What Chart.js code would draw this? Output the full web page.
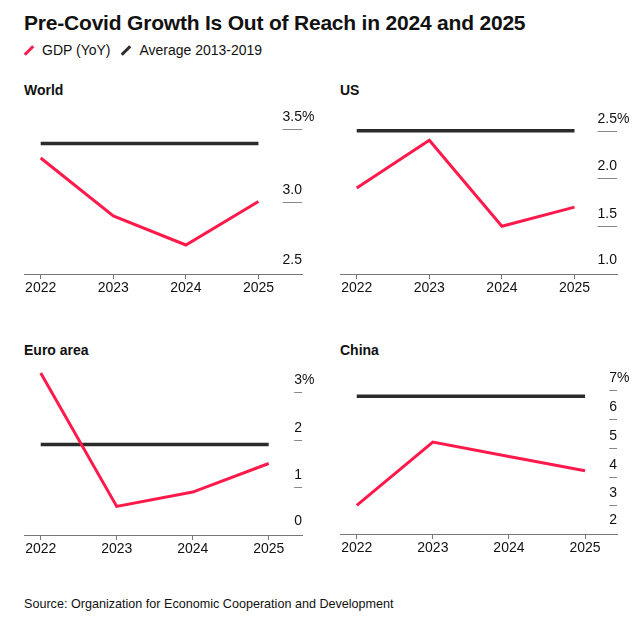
<!DOCTYPE html>
<html>
<head>
<meta charset="utf-8">
<script src="https://cdn.jsdelivr.net/npm/chart.js@4"></script>
<style>
  html, body { margin: 0; padding: 0; background: #fff; }
  body { width: 644px; height: 627px; position: relative; overflow: hidden; font-family: "Liberation Sans", Arial, sans-serif; color: #111; }
  .abs { position: absolute; white-space: nowrap; }
  #title { left: 24px; top: 10px; font-size: 21px; font-weight: bold; line-height: 26px; letter-spacing: -0.2px; }
  #legend { left: 24px; top: 41px; font-size: 14px; line-height: 18px; }
  .sw { display: inline-block; width: 12px; height: 3px; transform: rotate(-45deg); vertical-align: middle; margin: 0 7px 2px -1px; }
  .lg { display: inline-block; margin-right: 7px; }
  .ptitle { font-size: 14px; font-weight: bold; line-height: 18px; }
  #source { left: 24px; top: 596px; font-size: 12.6px; line-height: 16px; }
  canvas { position: absolute; }
</style>
</head>
<body>
<div id="title" class="abs">Pre-Covid Growth Is Out of Reach in 2024 and 2025</div>
<div id="legend" class="abs">
  <span class="lg"><span class="sw" style="background:#ff1a4b"></span>GDP (YoY)</span>
  <span class="lg"><span class="sw" style="background:#2b2b2b"></span>Average 2013-2019</span>
</div>
<div class="abs ptitle" style="left:24px;top:81px">World</div>
<div class="abs ptitle" style="left:340px;top:81px">US</div>
<div class="abs ptitle" style="left:24px;top:341px">Euro area</div>
<div class="abs ptitle" style="left:340px;top:341px">China</div>
<canvas id="cWorld"></canvas>
<canvas id="cUS"></canvas>
<canvas id="cEuro"></canvas>
<canvas id="cChina"></canvas>
<div id="source" class="abs">Source: Organization for Economic Cooperation and Development</div>

<script>
// ---- Data ----
const years = [2022, 2023, 2024, 2025];

const worldGdp = [3.3, 2.9, 2.7, 3.0];
const worldAvg = [3.4, 3.4, 3.4, 3.4];
const worldTicks = [2.5, 3.0, 3.5];
const worldTickLabels = ['2.5', '3.0', '3.5%'];

const usGdp = [1.9, 2.4, 1.5, 1.7];
const usAvg = [2.5, 2.5, 2.5, 2.5];
const usTicks = [1.0, 1.5, 2.0, 2.5];
const usTickLabels = ['1.0', '1.5', '2.0', '2.5%'];

const euroGdp = [3.4, 0.6, 0.9, 1.5];
const euroAvg = [1.9, 1.9, 1.9, 1.9];
const euroTicks = [0, 1, 2, 3];
const euroTickLabels = ['0', '1', '2', '3%'];

const chinaGdp = [3.0, 5.2, 4.7, 4.2];
const chinaAvg = [6.8, 6.8, 6.8, 6.8];
const chinaTicks = [2, 3, 4, 5, 6, 7];
const chinaTickLabels = ['2', '3', '4', '5', '6', '7%'];

// ---- Styling ----
const RED = '#ff1a4b';
const DARK = '#2b2b2b';
const AXIS = '#777';
const FONT = '"Liberation Sans", Arial, sans-serif';

const yLabelPlugin = {
  id: 'yLabels',
  afterDraw(chart, args, opts) {
    const s = chart.scales.y;
    const ctx = chart.ctx;
    const right = chart.chartArea.right;
    ctx.save();
    ctx.font = '14px ' + FONT;
    ctx.textBaseline = 'alphabetic';
    ctx.textAlign = 'left';
    opts.values.forEach((v, i) => {
      const label = opts.labels[i];
      const num = label.replace('%', '');
      const w = ctx.measureText(num).width;
      const y = Math.round(s.getPixelForValue(v));
      if (i > 0) {
        ctx.strokeStyle = '#888';
        ctx.lineWidth = 1;
        ctx.beginPath();
        ctx.moveTo(right - w, y + 0.5);
        ctx.lineTo(right, y + 0.5);
        ctx.stroke();
      }
      ctx.fillStyle = '#111';
      ctx.fillText(label, right - w, y - (i === 0 ? 10 : 8));
    });
    ctx.restore();
  }
};

function makePanel(id, cfg) {
  const el = document.getElementById(id);
  const plotW = cfg.axisRight - cfg.axisLeft;
  const plotH = cfg.axisY - cfg.plotTop;
  const padL = 10, padR = 24, xH = 30;
  el.width = plotW + padL + padR;
  el.height = plotH + xH;
  el.style.left = (cfg.axisLeft - padL) + 'px';
  el.style.top = cfg.plotTop + 'px';
  el.style.width = el.width + 'px';
  el.style.height = el.height + 'px';

  new Chart(el, {
    type: 'line',
    data: {
      datasets: [
        {
          label: 'GDP (YoY)',
          data: years.map((y, i) => ({ x: y, y: cfg.gdp[i] })),
          borderColor: RED, borderWidth: 3, pointRadius: 0, tension: 0,
          borderJoinStyle: 'miter', borderCapStyle: 'butt'
        },
        {
          label: 'Average 2013-2019',
          data: years.map((y, i) => ({ x: y, y: cfg.avg[i] })),
          borderColor: DARK, borderWidth: 3.5, pointRadius: 0, tension: 0,
          borderCapStyle: 'butt'
        }
      ]
    },
    options: {
      responsive: false,
      animation: false,
      devicePixelRatio: 1,
      layout: { padding: { left: padL, right: padR, top: 0, bottom: 0 } },
      plugins: {
        legend: { display: false },
        tooltip: { enabled: false },
        yLabels: { values: cfg.ticks, labels: cfg.tickLabels }
      },
      scales: {
        x: {
          type: 'linear',
          min: cfg.xMin, max: cfg.xMax,
          afterBuildTicks: (scale) => { scale.ticks = years.map(v => ({ value: v })); },
          afterFit: (scale) => { scale.height = xH; },
          ticks: {
            autoSkip: false, maxRotation: 0, padding: 1,
            color: '#111', font: { family: FONT, size: 14 },
            callback: (v) => String(v)
          },
          grid: { drawOnChartArea: false, drawTicks: true, tickLength: 5, color: AXIS, lineWidth: 1 },
          border: { display: true, color: AXIS, width: 1 }
        },
        y: {
          display: false,
          min: cfg.yMin, max: cfg.yMax
        }
      }
    },
    plugins: [yLabelPlugin]
  });
}

makePanel('cWorld', {
  gdp: worldGdp, avg: worldAvg, ticks: worldTicks, tickLabels: worldTickLabels,
  axisLeft: 24, axisRight: 302, axisY: 274, plotTop: 100,
  xMin: 2021.77, xMax: 2025.6, yMin: 2.5, yMax: 3.7
});
makePanel('cUS', {
  gdp: usGdp, avg: usAvg, ticks: usTicks, tickLabels: usTickLabels,
  axisLeft: 340, axisRight: 617, axisY: 274, plotTop: 100,
  xMin: 2021.77, xMax: 2025.585, yMin: 1.0, yMax: 2.821
});
makePanel('cEuro', {
  gdp: euroGdp, avg: euroAvg, ticks: euroTicks, tickLabels: euroTickLabels,
  axisLeft: 24, axisRight: 302, axisY: 535, plotTop: 358,
  xMin: 2021.78, xMax: 2025.438, yMin: 0, yMax: 3.713
});
makePanel('cChina', {
  gdp: chinaGdp, avg: chinaAvg, ticks: chinaTicks, tickLabels: chinaTickLabels,
  axisLeft: 340, axisRight: 617, axisY: 534, plotTop: 358,
  xMin: 2021.78, xMax: 2025.42, yMin: 2, yMax: 8.128
});
</script>
</body>
</html>
